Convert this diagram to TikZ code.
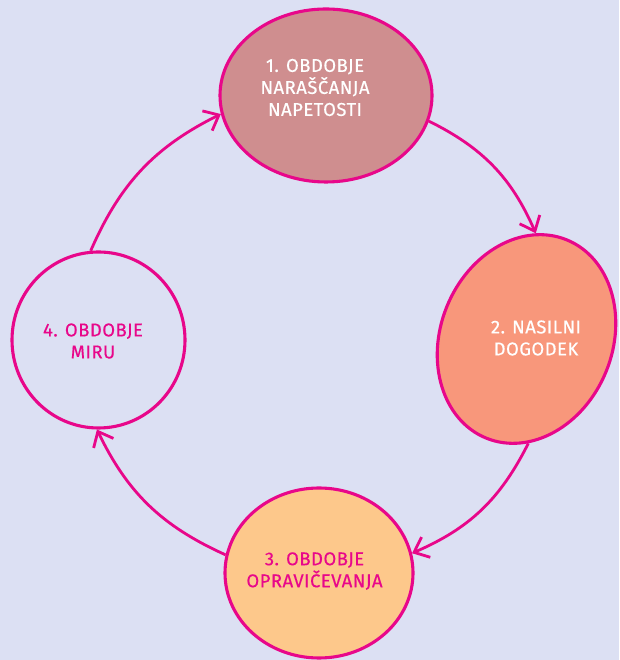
\documentclass[tikz,border=0pt]{standalone}
\usepackage{fontspec}
\setmainfont{Fira Sans}[LetterSpace=2.5, FakeBold=0.4]
\usetikzlibrary{shapes.geometric,arrows.meta}
\definecolor{bgblue}{HTML}{DCE0F3}
\definecolor{pinkline}{HTML}{E8078A}
\definecolor{roseFill}{HTML}{CF8E8F}
\definecolor{salmonFill}{HTML}{F8977B}
\definecolor{apricotFill}{HTML}{FDC88B}
\begin{document}
\begin{tikzpicture}[x=1pt, y=1pt,
    phase/.style={ellipse, draw=pinkline, line width=3.1pt, inner sep=0pt},
    phasetext/.style={align=center, font=\fontsize{18.5}{22}\selectfont},
    cyclearrow/.style={pinkline, line width=2.8pt,
        -{Straight Barb[length=13pt, width=22pt]}, bend left=20}]

    % Background and canvas size
    \fill[bgblue] (0,0) rectangle (619,660);
    \useasboundingbox (0,0) rectangle (619,660);

    % The four phases of the cycle
    \node[phase, fill=roseFill, minimum width=212pt, minimum height=173pt] (n1) at (326,564.5) {};
    \node[phase, fill=salmonFill, minimum width=172pt, minimum height=214pt, rotate=-22] (n2) at (526.5,321) {};
    \node[phase, fill=apricotFill, minimum width=188pt, minimum height=170pt] (n3) at (319,87) {};
    \node[phase, minimum width=173pt, minimum height=176pt] (n4) at (98.5,320) {};

    % Phase texts
    \node[phasetext, white] (t1) at ([shift={(-11,8)}]n1.center) {1. OBDOBJE\\NARAŠČANJA\\NAPETOSTI};
    \node[phasetext, white] (t2) at ([shift={(9.5,1)}]n2.center) {2. NASILNI\\DOGODEK};
    \node[phasetext, pinkline] (t3) at ([shift={(-4.5,2)}]n3.center) {3. OBDOBJE\\OPRAVIČEVANJA};
    \node[phasetext, pinkline] (t4) at ([shift={(-5.5,-1)}]n4.center) {4. OBDOBJE\\MIRU};

    % Arrows between the phases
    \draw[cyclearrow] (n4.95) to (n1.190);
    \draw[cyclearrow] (n1.-14) to (n2.107);
    \draw[cyclearrow] (n2.-67) to (n3.12);
    \draw[cyclearrow] (n3.169) to (n4.-91);

\end{tikzpicture}
\end{document}
